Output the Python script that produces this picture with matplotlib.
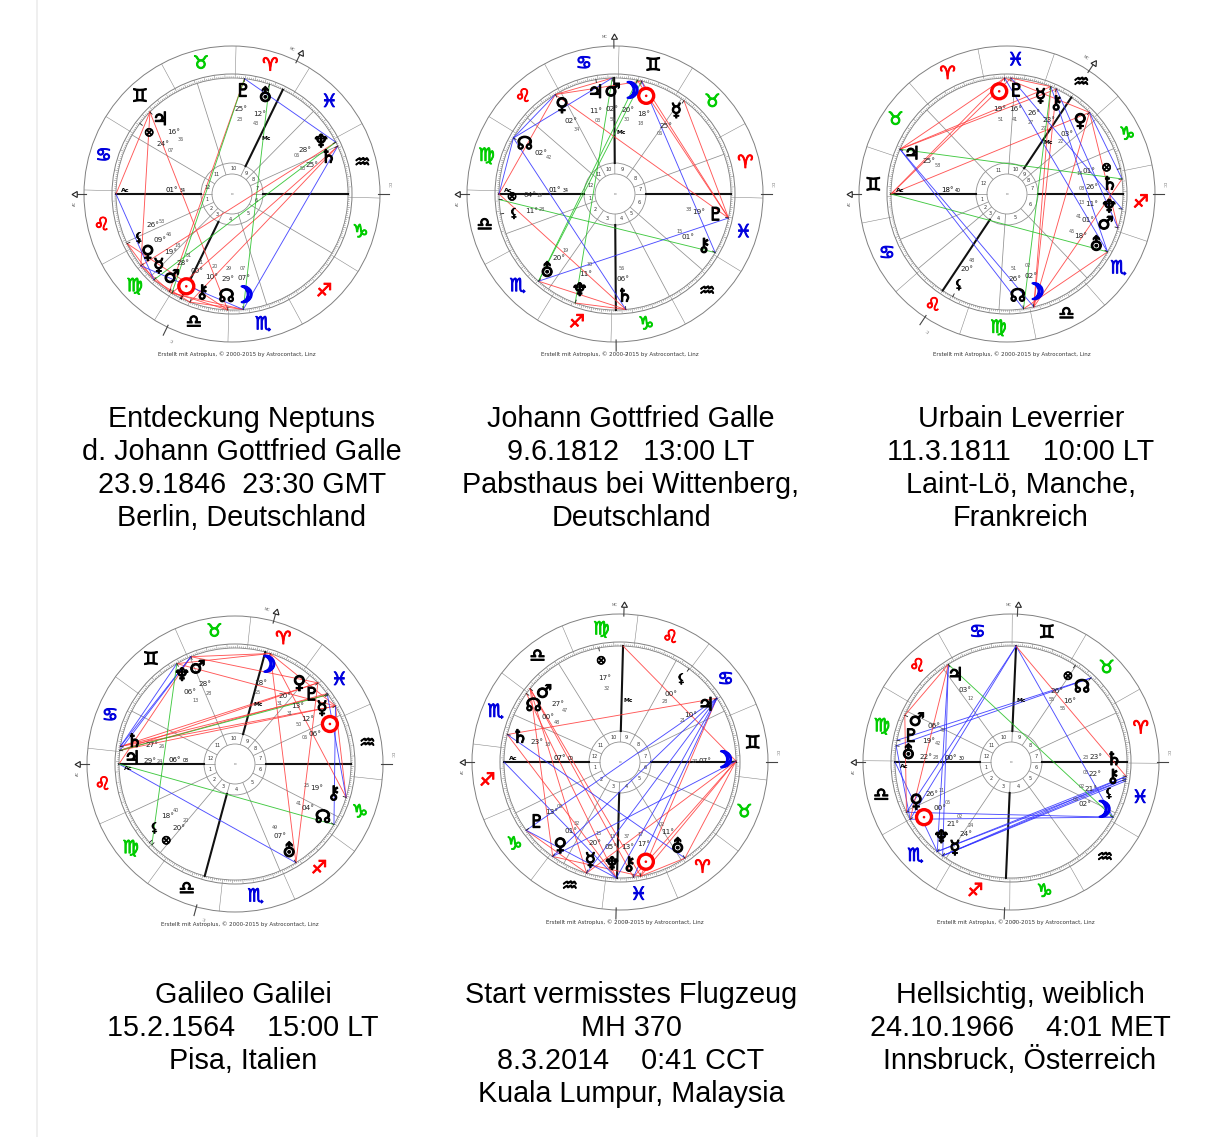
import numpy as np
import matplotlib
matplotlib.use("Agg")
import matplotlib.pyplot as plt
import matplotlib.patheffects as pe
from matplotlib.patches import Circle
from matplotlib.collections import LineCollection

plt.rcParams['font.family'] = ['DejaVu Sans']

# ---------------- data ----------------
signs = ['♈', '♉', '♊', '♋', '♌', '♍', '♎', '♏', '♐', '♑', '♒', '♓']
sign_col = ['#ff0000', '#00cc00', '#000000', '#0000dd'] * 3

bodies = ['sun', 'moon', 'mer', 'ven', 'mar', 'jup', 'sat', 'ura', 'nep', 'plu', 'chi', 'nod', 'lil', 'pof']
glyph = {'sun': '☉', 'moon': '☽', 'mer': '☿', 'ven': '♀', 'mar': '♂', 'jup': '♃', 'sat': '♄',
         'ura': '⛢', 'nep': '♆', 'plu': '♇', 'chi': '⚷', 'nod': '☊', 'lil': '⚸', 'pof': '⊗'}

# chart 1 - Entdeckung Neptuns
c1_title = ["Entdeckung Neptuns", "d. Johann Gottfried Galle", "23.9.1846  23:30 GMT", "Berlin, Deutschland"]
c1_asc, c1_mc = 121.57, 5.60
c1_cusps = [146, 167, 229, 271]          # houses 2, 3, 5, 6
c1_lon = [180.35, 217.12, 169.30, 159.77, 178.85, 76.60, 325.88, 12.72, 328.10, 25.38, 190.33, 209.48, 146.88, 84.12]
c1_asp = [('asc', 'jup', 'r'), ('jup', 'ven', 'r'), ('jup', 'nod', 'r'), ('plu', 'mar', 'r'), ('sat', 'sun', 'r'),
          ('sat', 'chi', 'r'), ('nep', 'ven', 'r'), ('lil', 'mer', 'r'), ('ven', 'sun', 'r'), ('mer', 'chi', 'r'),
          ('mar', 'nod', 'r'), ('sun', 'moon', 'r'), ('chi', 'moon', 'r'), ('lil', 'nod', 'r'),
          ('plu', 'sun', 'g'), ('ura', 'moon', 'g'), ('nep', 'mer', 'g'),
          ('plu', 'nep', 'b'), ('asc', 'mer', 'b'), ('sat', 'moon', 'b'), ('ven', 'moon', 'b')]

# chart 2 - Johann Gottfried Galle
c2_title = ["Johann Gottfried Galle", "9.6.1812   13:00 LT", "Pabsthaus bei Wittenberg,", "Deutschland"]
c2_asc, c2_mc = 181.57, 92.0
c2_cusps = [201.6, 236.6, 299.6, 320.6]
c2_lon = [78.30, 80.50, 55.10, 122.57, 92.92, 101.05, 276.93, 230.32, 251.50, 349.63, 331.25, 152.70, 191.47, 184.32]
c2_asp = [('ven', 'sun', 'r'), ('ven', 'mar', 'r'), ('asc', 'ven', 'r'), ('ven', 'plu', 'r'), ('sun', 'plu', 'r'),
          ('moon', 'plu', 'r'), ('mer', 'plu', 'r'), ('asc', 'sat', 'r'), ('ura', 'sat', 'r'), ('nep', 'sat', 'r'),
          ('mar', 'nep', 'g'), ('moon', 'ura', 'g'), ('sun', 'ura', 'g'), ('pof', 'chi', 'g'),
          ('nod', 'mar', 'b'), ('nod', 'sat', 'b'), ('ura', 'plu', 'b'), ('sun', 'chi', 'b'), ('asc', 'nod', 'b'),
          ('nod', 'ven', 'b')]

# chart 3 - Urbain Leverrier
c3_title = ["Urbain Leverrier", "11.3.1811    10:00 LT", "Laint-Lö, Manche,", "Frankreich"]
c3_asc, c3_mc = 78.67, 315.0
c3_cusps = [101.7, 118.7, 164.7, 212.3]
c3_lon = [349.85, 182.03, 326.45, 303.37, 241.68, 55.97, 266.13, 228.75, 251.22, 346.68, 323.45, 176.85, 140.80, 271.30]
c3_asp = [('asc', 'sun', 'r'), ('asc', 'plu', 'r'), ('asc', 'ven', 'r'), ('jup', 'mer', 'r'), ('jup', 'sun', 'r'),
          ('jup', 'chi', 'r'), ('sun', 'ven', 'r'), ('plu', 'mer', 'r'), ('moon', 'ven', 'r'), ('moon', 'mer', 'r'),
          ('moon', 'sat', 'r'), ('moon', 'chi', 'r'), ('nod', 'ura', 'r'), ('mar', 'ven', 'r'),
          ('jup', 'moon', 'b'), ('jup', 'nod', 'b'), ('plu', 'nep', 'b'), ('mer', 'ura', 'b'), ('chi', 'mar', 'b'),
          ('ven', 'sat', 'b'), ('sun', 'ura', 'b'),
          ('jup', 'sat', 'g'), ('asc', 'ura', 'g'), ('mer', 'nod', 'g')]

# chart 4 - Galileo Galilei
c4_title = ["Galileo Galilei", "15.2.1564    15:00 LT", "Pisa, Italien"]
c4_asc, c4_mc = 126.13, 21.0
c4_cusps = [151, 176, 239, 279]
c4_lon = [336.10, 18.42, 342.83, 350.52, 58.47, 119.40, 117.43, 247.82, 66.22, 343.52, 289.42, 274.68, 168.67, 170.33]
c4_asp = [('sat', 'sun', 'r'), ('sat', 'mer', 'r'), ('jup', 'sun', 'r'), ('jup', 'plu', 'r'), ('jup', 'ven', 'r'),
          ('sat', 'ven', 'r'), ('nep', 'moon', 'r'), ('mar', 'moon', 'r'), ('nep', 'sun', 'r'), ('mar', 'ven', 'r'),
          ('moon', 'ura', 'r'), ('moon', 'chi', 'r'), ('asc', 'mar', 'r'), ('ura', 'ven', 'r'), ('sun', 'chi', 'r'),
          ('moon', 'sun', 'r'),
          ('sat', 'nep', 'b'), ('jup', 'mar', 'b'), ('sat', 'mar', 'b'), ('asc', 'ura', 'b'), ('sun', 'nod', 'b'),
          ('plu', 'chi', 'b'),
          ('asc', 'nod', 'g'), ('jup', 'mer', 'g'), ('nep', 'pof', 'g')]

# chart 5 - MH 370
c5_title = ["Start vermisstes Flugzeug", "MH 370", "8.3.2014    0:41 CCT", "Kuala Lumpur, Malaysia"]
c5_asc, c5_mc = 247.0, 155.5
c5_cusps = [273, 308, 9, 43]
c5_lon = [347.28, 67.45, 320.25, 301.53, 207.78, 100.35, 233.30, 11.03, 335.22, 283.05, 343.62, 210.80, 120.47, 167.53]
c5_asp = [('mar', 'ven', 'r'), ('mar', 'mer', 'r'), ('mar', 'sun', 'r'), ('mar', 'chi', 'r'), ('nod', 'nep', 'r'),
          ('sat', 'jup', 'r'), ('mc', 'moon', 'r'), ('jup', 'sun', 'r'), ('moon', 'sun', 'r'), ('moon', 'chi', 'r'),
          ('moon', 'ura', 'r'), ('moon', 'mer', 'r'), ('sat', 'nep', 'r'), ('plu', 'mer', 'r'), ('ven', 'sun', 'r'),
          ('ura', 'sun', 'r'),
          ('asc', 'nep', 'b'), ('sat', 'ura', 'b'), ('jup', 'ven', 'b'), ('jup', 'mer', 'b'), ('jup', 'nep', 'b'),
          ('jup', 'chi', 'b'), ('moon', 'ven', 'b'), ('plu', 'nep', 'b'), ('jup', 'plu', 'b')]

# chart 6 - Hellsichtig, weiblich
c6_title = ["Hellsichtig, weiblich", "24.10.1966    4:01 MET", "Innsbruck, Österreich"]
c6_asc, c6_mc = 180.5, 88.0
c6_cusps = [205.5, 236.5, 306.5, 334.5]
c6_lon = [210.08, 332.10, 234.40, 206.18, 156.78, 123.20, 353.38, 172.47, 231.03, 169.70, 352.05, 46.92, 351.03, 56.92]
c6_asp = [('mc', 'sun', 'b'), ('mc', 'ven', 'b'), ('mc', 'moon', 'b'), ('jup', 'nep', 'b'), ('jup', 'mer', 'b'),
          ('nod', 'ura', 'b'), ('nod', 'plu', 'b'), ('ura', 'sun', 'b'), ('asc', 'nep', 'b'), ('sun', 'moon', 'b'),
          ('ven', 'moon', 'b'), ('nep', 'chi', 'b'), ('nep', 'sat', 'b'), ('mer', 'chi', 'b'), ('mer', 'lil', 'b'),
          ('mer', 'sat', 'b'),
          ('mc', 'sat', 'r'), ('jup', 'sun', 'r'), ('jup', 'mar', 'r'), ('mar', 'ven', 'r'),
          ('jup', 'moon', 'g')]

asp_col = {'r': '#ff3a3a', 'g': '#22c022', 'b': '#2f2fff'}

# ---------------- layout ----------------
W, H = 1220, 1137
centers = [(232, 194), (615, 194), (1007, 194), (235, 764), (620, 762), (1011, 762)]
cap_x = [242, 631, 1021, 243, 631, 1020]
cap_base = [427, 427, 427, 1003, 1003, 1003]
R_out, R_zod, R_in, R_h1, R_h0 = 148, 120, 116, 31, 20

fig = plt.figure(figsize=(W / 100, H / 100), dpi=100)
ax = fig.add_axes([0, 0, 1, 1])
ax.set_xlim(0, W)
ax.set_ylim(H, 0)
ax.axis('off')

ax.plot([37, 37], [0, H], color='#ececec', lw=1.2)


def pt(cx, cy, r, a):
    return cx + r * np.cos(a), cy - r * np.sin(a)


def spread(deg, sep):
    a = np.mod(np.array(deg, float), 360)
    s = np.sort(a)
    gaps = np.diff(np.r_[s, s[0] + 360])
    ref = s[np.argmax(gaps)] + gaps.max() / 2
    b = np.mod(a - ref, 360)
    order = np.argsort(b)
    v = b[order].copy()
    for _ in range(400):
        moved = False
        for i in range(len(v) - 1):
            d = v[i + 1] - v[i]
            if d < sep - 1e-6:
                p = (sep - d) / 2
                v[i] -= p
                v[i + 1] += p
                moved = True
        if not moved:
            break
    out = np.empty_like(b)
    out[order] = v
    return out + ref


def bold(w, c):
    return [pe.withStroke(linewidth=w, foreground=c)]


def draw_chart(cx, cy, asc, mc, cusps, lons, aspects):
    ang = lambda lon: np.radians(180.0 + lon - asc)
    for r, c, w in [(R_out, '#808080', 0.7), (R_zod, '#808080', 0.7), (R_in, '#808080', 0.6),
                    (R_h1, '#909090', 0.6), (R_h0, '#909090', 0.6)]:
        ax.add_patch(Circle((cx, cy), r, fill=False, ec=c, lw=w, zorder=2))

    # zodiac ring
    segs = []
    for k in range(12):
        a = ang(k * 30)
        segs.append([pt(cx, cy, R_zod, a), pt(cx, cy, R_out, a)])
        x, y = pt(cx, cy, 134, ang(k * 30 + 15))
        ax.text(x, y, signs[k], color=sign_col[k], fontsize=13, fontweight='bold',
                ha='center', va='center', zorder=4, path_effects=bold(0.7, sign_col[k]))
    for d in range(360):
        ln = 4 if d % 10 == 0 else (3 if d % 5 == 0 else 1.8)
        a = ang(d)
        segs.append([pt(cx, cy, R_in, a), pt(cx, cy, R_in + ln, a)])
    ax.add_collection(LineCollection(segs, colors='#8a8a8a', linewidths=0.4, zorder=2))

    # houses
    c2, c3, c5, c6 = cusps
    hc = [asc, c2, c3, mc + 180, c5, c6, asc + 180, c2 + 180, c3 + 180, mc, c5 + 180, c6 + 180]
    hseg = []
    for i, h in enumerate(hc):
        a = ang(h)
        hseg.append([pt(cx, cy, R_h0, a), pt(cx, cy, R_h1, a)])
        if i % 3 == 0:
            ax.plot(*zip(pt(cx, cy, R_h1, a), pt(cx, cy, R_in, a)), color='#111111', lw=1.5, zorder=3)
        else:
            hseg.append([pt(cx, cy, R_h1, a), pt(cx, cy, R_in, a)])
        nxt = hc[(i + 1) % 12]
        mid = h + ((nxt - h) % 360) / 2
        x, y = pt(cx, cy, 25.5, ang(mid))
        ax.text(x, y, str(i + 1), fontsize=3.6, ha='center', va='center', color='#333333', zorder=4)
    ax.add_collection(LineCollection(hseg, colors='#909090', linewidths=0.55, zorder=2))
    ax.text(cx, cy, 'o', fontsize=3.2, ha='center', va='center', color='#777777')

    # axis extensions outside the wheel
    for lon, lab, tip in [(asc, 'AC', True), (asc + 180, 'DC', False), (mc, 'MC', True), (mc + 180, 'IC', False)]:
        a = ang(lon)
        ax.plot(*zip(pt(cx, cy, R_out - 2, a), pt(cx, cy, R_out + 9, a)), color='#444444', lw=0.8, zorder=2)
        if tip:
            x, y = pt(cx, cy, R_out + 9, a)
            ax.plot(x, y, marker=(3, 0, np.degrees(a) - 90), ms=5, mfc='white', mec='#222222', mew=0.8, zorder=3)
        x, y = pt(cx, cy, R_out + 9, a + 0.06)
        ax.text(x, y, lab, fontsize=2.8, color='#666666', ha='center', va='center',
                rotation=np.degrees(a) - 90)

    # planets: screen angles, spread glyph and label positions
    scr = np.array([180.0 + l - asc for l in lons])
    gdeg = spread(scr, 9.5)
    ldeg = spread(scr, 11.0)

    ax_a = ang(asc)
    gd = np.mod(gdeg, 360)
    above = np.any((gd > 168) & (gd < 180))
    x, y = pt(cx, cy, R_in - 9, ax_a)
    if above:
        ax.text(x, y + 1.5, 'Ac', fontsize=4.5, fontweight='bold', ha='center', va='top', zorder=5)
    else:
        ax.text(x, y - 1.5, 'Ac', fontsize=4.5, fontweight='bold', ha='center', va='bottom', zorder=5)
    x, y = pt(cx, cy, 60, ax_a)
    ax.text(x, y - 1, f"{int(asc % 30):02d}°", fontsize=5, ha='center', va='bottom', zorder=5)
    ax.text(x + 8, y - 1, f"{int(round(asc % 1 * 60)) % 60:02d}", fontsize=3.4, ha='left', va='bottom', zorder=5)
    x, y = pt(cx, cy, 62, ang(mc))
    ax.text(x + 7, y, 'Mc', fontsize=4.3, fontweight='bold', ha='center', va='center', zorder=5)

    # aspects
    pos = dict(zip(bodies, lons))
    pos['asc'], pos['mc'] = asc, mc
    for p, q, c in aspects:
        a1, a2 = ang(pos[p]), ang(pos[q])
        ax.plot(*zip(pt(cx, cy, R_in, a1), pt(cx, cy, R_in, a2)), color=asp_col[c],
                lw=0.65, alpha=0.85, zorder=3)

    for b, l, g, t in zip(bodies, lons, gdeg, ldeg):
        a_true = ang(l)
        ax.plot(*zip(pt(cx, cy, R_in, a_true), pt(cx, cy, R_in - 3, a_true)), color='#222222', lw=0.6, zorder=4)
        a = np.radians(g)
        x, y = pt(cx, cy, 103, a)
        if b == 'sun':
            ax.add_patch(Circle((x, y), 7.5, fc='white', ec='#ff0000', lw=2.4, zorder=6))
            ax.add_patch(Circle((x, y), 1.3, fc='#ff0000', ec='none', zorder=7))
        elif b == 'moon':
            ax.text(x, y, glyph[b], fontsize=16, fontweight='bold', color='#0000ee',
                    ha='center', va='center', zorder=6, path_effects=bold(1.5, '#0000ee'))
        elif b in ('lil', 'pof'):
            ax.text(x, y, glyph[b], fontsize=9, color='#000000', ha='center', va='center', zorder=6,
                    path_effects=bold(0.5, '#000000'))
        else:
            ax.text(x, y, glyph[b], fontsize=13, fontweight='bold', color='#000000',
                    ha='center', va='center', zorder=6, path_effects=bold(0.8, '#000000'))
        a = np.radians(t)
        x, y = pt(cx, cy, 85, a)
        ax.text(x, y, f"{int(l % 30):02d}°", fontsize=5.2, ha='center', va='center', color='#222222', zorder=5)
        x, y = pt(cx, cy, 75, a)
        ax.text(x, y, f"{int(round(l % 1 * 60)) % 60:02d}", fontsize=3.5, ha='center', va='center',
                color='#555555', zorder=5)

    ax.text(cx + 5, cy + 160, "Erstellt mit Astroplus, © 2000-2015 by Astrocontact, Linz",
            fontsize=4.0, ha='center', va='center', color='#333333')


charts = [
    (c1_title, c1_asc, c1_mc, c1_cusps, c1_lon, c1_asp),
    (c2_title, c2_asc, c2_mc, c2_cusps, c2_lon, c2_asp),
    (c3_title, c3_asc, c3_mc, c3_cusps, c3_lon, c3_asp),
    (c4_title, c4_asc, c4_mc, c4_cusps, c4_lon, c4_asp),
    (c5_title, c5_asc, c5_mc, c5_cusps, c5_lon, c5_asp),
    (c6_title, c6_asc, c6_mc, c6_cusps, c6_lon, c6_asp),
]

for i, (title, asc, mc, cusps, lons, asp) in enumerate(charts):
    cx, cy = centers[i]
    draw_chart(cx, cy, asc, mc, cusps, lons, asp)
    for j, line in enumerate(title):
        ax.text(cap_x[i], cap_base[i] + 33 * j, line, fontsize=20.7, family='Liberation Sans',
                ha='center', va='baseline', color='#000000')

fig.savefig('out.png', dpi=100, facecolor='white')
